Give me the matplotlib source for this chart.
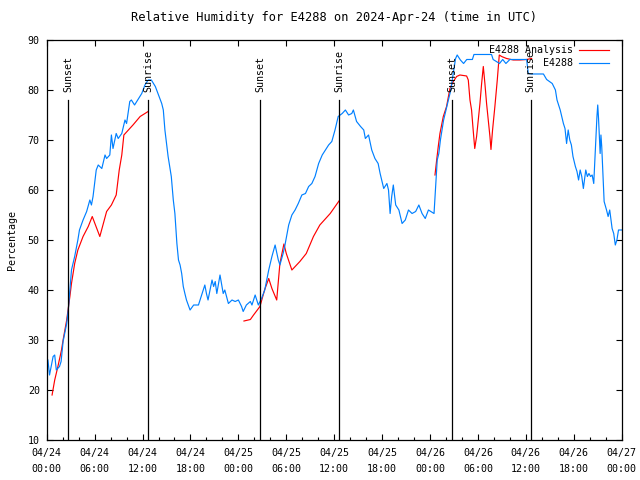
import numpy as np
import matplotlib
matplotlib.use("Agg")
import matplotlib.pyplot as plt

# Hours since 2024-04-24 00:00 UTC
obs_hours = [
    0.15, 0.35, 0.8, 1.0, 1.2, 1.6, 1.8, 2.05, 2.5, 2.7,
    2.9, 3.1, 3.5, 3.9, 4.1, 4.55, 5.0, 5.4, 5.6, 5.8,
    6.2, 6.45, 6.9, 7.3, 7.5, 7.9, 8.1, 8.3, 8.7, 8.95,
    9.4, 9.8, 10.0, 10.4, 10.6, 11.0, 11.5, 11.9, 12.3, 12.7,
    13.1, 13.6, 14.0, 14.4, 14.6, 14.8, 15.2, 15.6, 15.85, 16.05,
    16.3, 16.5, 16.7, 16.9, 17.1, 17.3, 17.5, 17.95, 18.4, 19.0,
    19.4, 19.8, 20.0, 20.2, 20.7, 20.9, 21.1, 21.3, 21.7, 22.1,
    22.3, 22.75, 23.2, 23.6, 24.0, 24.4, 24.6, 25.0, 25.5, 25.7,
    26.1, 26.5, 26.9, 27.3, 27.8, 28.2, 28.6, 29.0, 29.2, 29.6,
    29.8, 30.3, 30.7, 31.1, 31.5, 31.95, 32.4, 32.8, 33.2, 33.6,
    34.05, 34.5, 34.9, 35.3, 35.7, 36.1, 36.5, 37.0, 37.4, 37.8,
    38.2, 38.4, 38.8, 39.3, 39.7, 39.9, 40.3, 40.7, 41.1, 41.5,
    41.75, 42.2, 42.6, 42.8, 43.0, 43.2, 43.4, 43.7, 44.1, 44.5,
    44.9, 45.3, 45.75, 46.2, 46.6, 47.0, 47.4, 47.8, 48.5, 48.7,
    48.9, 49.1, 49.3, 49.5, 49.7, 50.1, 50.6, 50.9, 51.2, 51.4,
    51.8, 52.2, 52.6, 53.3, 53.5, 55.7, 55.9, 56.7, 57.1, 57.5,
    58.0, 60.1, 60.3, 60.7, 62.2, 62.6, 63.3, 63.7, 63.9, 64.3,
    64.7, 64.9, 65.1, 65.3, 65.5, 65.7, 65.9, 66.2, 66.4, 66.6,
    66.8, 67.0, 67.2, 67.5, 67.7, 67.9, 68.1, 68.3, 68.5, 68.7,
    68.9, 69.0, 69.1, 69.3, 69.4, 69.5, 69.7, 69.8, 70.1, 70.3,
    70.5, 70.8, 71.0, 71.2, 71.4, 71.6, 72.0,
]
obs_rh = [
    26, 23, 26.7, 27, 24, 24.7, 25.7, 29.7, 33.3, 36,
    40, 44, 46.7, 50, 52, 54, 55.7, 58, 57, 58.7,
    64, 65, 64.3, 67, 66.3, 67, 71, 68.3, 71.3, 70.3,
    71.3, 74, 73.3, 77.7, 78, 77, 78.3, 79.3, 81, 82,
    82, 80.7, 79, 77.3, 76, 72, 66.7, 62.7, 58, 55.3,
    49.3, 46, 45, 43.3, 40.7, 39.3, 38, 36, 37, 37,
    39, 41, 39.3, 38, 42, 40.7, 41.7, 39.3, 43, 39.3,
    40, 37.3, 38, 37.7, 38, 36.7, 35.7, 37, 37.7, 37,
    39, 37, 38.3, 40, 44, 46.7, 49, 46, 45, 47.3,
    48.7, 53, 55, 56, 57.3, 59, 59.3, 60.7, 61.3, 62.7,
    65.3, 67, 68, 69, 69.7, 72, 74.7, 75.3, 76, 75,
    75.3, 76, 73.7, 72.7, 72, 70.3, 71, 68, 66.3, 65.3,
    63.3, 60.3, 61.3, 60, 55.3, 58.7, 61, 57, 56, 53.3,
    54, 56, 55.3, 55.7, 57, 55.3, 54.3, 56, 55.3, 60.7,
    66, 67.3, 70, 72, 74, 76.7, 80, 83.3, 86.3, 87,
    86, 85.3, 86.1, 86.1, 87.1, 87.1, 86.1, 85.3, 86.1, 85.3,
    86.1, 86.1, 83.3, 83.2, 83.2, 82.1, 81.3, 80, 78, 76,
    73.3, 72.3, 69.3, 72, 70, 69, 66.7, 64.7, 63.7, 62,
    64, 62.7, 60.3, 64, 62.7, 63.3, 62.7, 63, 61.3, 68,
    74.7, 77, 74.3, 67.3, 71, 68.7, 61.3, 57.7, 56, 54.7,
    56, 52.3, 51.3, 49, 50, 52, 52,
]

# Analysis (NaN separates the three nightly runs)
ana_hours = [
    0.67, 1.0, 1.4, 1.85, 2.05, 2.5, 2.9, 3.1, 3.5, 3.9,
    4.55, 5.2, 5.7, 6.65, 7.5, 8.1, 8.7, 9.08, 9.4, 9.66,
    10.4, 10.8, 11.7, 12.7, 18.0,
    24.7, 25.5, 25.9, 26.7, 27.3, 27.8, 28.2, 28.8, 29.2, 29.7,
    30.0, 30.7, 31.7, 32.5, 33.4, 34.2, 35.5, 36.6, 42.0,
    48.62, 48.83, 49.03, 49.24, 49.66, 50.07, 50.49, 50.91, 51.33, 51.74,
    52.58, 52.79, 53.0, 53.2, 53.4, 53.6, 53.83, 54.04, 54.25, 54.46,
    54.67, 54.87, 55.08, 55.29, 55.5, 55.63, 55.83, 56.12, 56.42, 56.67,
    56.96, 57.58, 58.42, 59.25, 60.09, 60.72,
]
ana_rh = [
    19, 22, 24.7, 28, 30, 34, 38.7, 41.3, 45.3, 48,
    50.7, 52.7, 54.7, 50.7, 55.7, 57, 59, 64, 67, 71,
    72.3, 73, 74.7, 75.7, np.nan,
    33.8, 34.1, 35, 36.7, 40.1, 42.3, 40.3, 38, 45.3, 49.2,
    47.3, 44, 45.7, 47.3, 50.7, 53, 55.3, 57.8, np.nan,
    63, 66, 68.7, 71.3, 74.7, 76.7, 80.3, 81.7, 82.7, 83,
    82.8, 82, 78, 76, 72, 68.3, 70.7, 74, 77.3, 81.3,
    84.7, 81.3, 77.3, 74, 70.7, 68.1, 72, 76.7, 82, 87,
    86.7, 86.3, 86, 86, 86.1, 86.3,
]

sun_hours = [2.67, 12.68, 26.7, 36.62, 50.75, 60.6]
sun_labels = ["Sunset", "Sunrise", "Sunset", "Sunrise", "Sunset", "Sunrise"]

tick_hours = list(range(0, 73, 6))
tick_labels = [
    "04/24\n00:00", "04/24\n06:00", "04/24\n12:00", "04/24\n18:00",
    "04/25\n00:00", "04/25\n06:00", "04/25\n12:00", "04/25\n18:00",
    "04/26\n00:00", "04/26\n06:00", "04/26\n12:00", "04/26\n18:00",
    "04/27\n00:00",
]

plt.rcParams["font.family"] = ["DejaVu Sans Mono"]
plt.rcParams["font.size"] = 7.2

fig = plt.figure(figsize=(6.4, 4.8), dpi=100)
ax = fig.add_axes([0.073, 0.0833, 0.8984, 0.8334])

ax.plot(ana_hours, ana_rh, color="#ff0000", lw=0.85, label="E4288 Analysis")
ax.plot(obs_hours, obs_rh, color="#0080ff", lw=0.85, label="E4288")

for h, name in zip(sun_hours, sun_labels):
    ax.plot([h, h], [10, 78], color="black", lw=0.9)
    ax.text(h, 79.6, name, rotation=90, ha="center", va="bottom")

ax.set_xlim(0, 72)
ax.set_ylim(10, 90)
ax.set_xticks(tick_hours)
ax.set_xticklabels(tick_labels, linespacing=1.7)
ax.set_xticks(np.arange(0, 73, 2), minor=True)
ax.set_yticks(range(10, 91, 10))
ax.tick_params(which="major", direction="in", length=4.5, width=0.8,
               top=True, right=True)
ax.tick_params(which="minor", direction="in", length=2.5, width=0.8,
               top=False, right=False)
ax.tick_params(axis="x", pad=6)
ax.tick_params(axis="y", pad=5)
for s in ax.spines.values():
    s.set_linewidth(0.9)

ax.set_ylabel("Percentage", labelpad=8)
ax.set_title("Relative Humidity for E4288 on 2024-Apr-24 (time in UTC)", pad=14)
ax.legend(loc="upper right", bbox_to_anchor=(0.985, 0.997), markerfirst=False,
          frameon=False, handlelength=3.0, handletextpad=0.6,
          labelspacing=0.3, borderaxespad=0.0)

plt.savefig("out.png", dpi=100)
plt.close()
